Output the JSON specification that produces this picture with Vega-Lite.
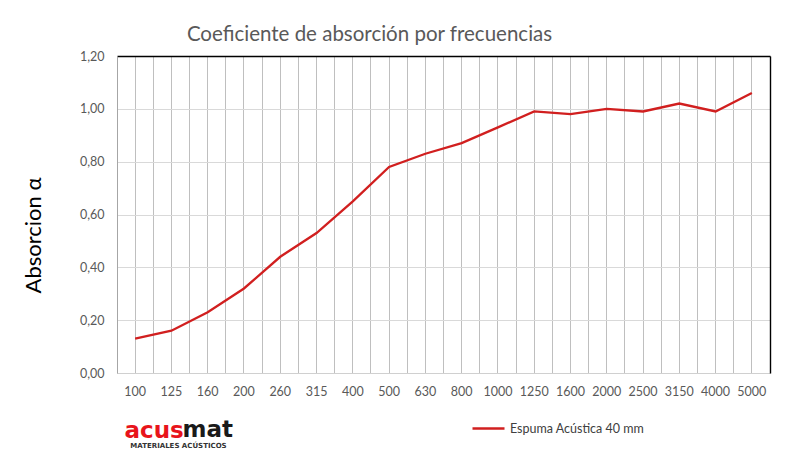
{
  "$schema": "https://vega.github.io/schema/vega-lite/v6.json",
  "width": 653,
  "height": 317,
  "autosize": {"type": "none"},
  "padding": {"left": 117, "top": 56, "right": 42, "bottom": 100},
  "title": {
    "text": "Coeficiente de absorción por frecuencias",
    "anchor": "middle",
    "frame": "group",
    "dx": -74,
    "offset": 5,
    "font": "Lato",
    "fontSize": 20.5,
    "fontWeight": "normal",
    "color": "#595959"
  },
  "data": {
    "values": [
      {"frecuencia": "100", "absorcion": 0.13, "serie": "Espuma Acústica 40 mm"},
      {"frecuencia": "125", "absorcion": 0.16, "serie": "Espuma Acústica 40 mm"},
      {"frecuencia": "160", "absorcion": 0.23, "serie": "Espuma Acústica 40 mm"},
      {"frecuencia": "200", "absorcion": 0.32, "serie": "Espuma Acústica 40 mm"},
      {"frecuencia": "260", "absorcion": 0.44, "serie": "Espuma Acústica 40 mm"},
      {"frecuencia": "315", "absorcion": 0.53, "serie": "Espuma Acústica 40 mm"},
      {"frecuencia": "400", "absorcion": 0.65, "serie": "Espuma Acústica 40 mm"},
      {"frecuencia": "500", "absorcion": 0.78, "serie": "Espuma Acústica 40 mm"},
      {"frecuencia": "630", "absorcion": 0.83, "serie": "Espuma Acústica 40 mm"},
      {"frecuencia": "800", "absorcion": 0.87, "serie": "Espuma Acústica 40 mm"},
      {"frecuencia": "1000", "absorcion": 0.93, "serie": "Espuma Acústica 40 mm"},
      {"frecuencia": "1250", "absorcion": 0.99, "serie": "Espuma Acústica 40 mm"},
      {"frecuencia": "1600", "absorcion": 0.98, "serie": "Espuma Acústica 40 mm"},
      {"frecuencia": "2000", "absorcion": 1.0, "serie": "Espuma Acústica 40 mm"},
      {"frecuencia": "2500", "absorcion": 0.99, "serie": "Espuma Acústica 40 mm"},
      {"frecuencia": "3150", "absorcion": 1.02, "serie": "Espuma Acústica 40 mm"},
      {"frecuencia": "4000", "absorcion": 0.99, "serie": "Espuma Acústica 40 mm"},
      {"frecuencia": "5000", "absorcion": 1.06, "serie": "Espuma Acústica 40 mm"}
    ]
  },
  "layer": [
    {
      "mark": {"type": "line", "opacity": 0},
      "encoding": {
        "x": {
          "field": "frecuencia",
          "type": "ordinal",
          "sort": null,
          "bandPosition": 0.5,
          "scale": {"type": "band", "paddingInner": 0, "paddingOuter": 0},
          "axis": {
            "orient": "top",
            "bandPosition": 0,
            "labels": false,
            "ticks": false,
            "grid": true,
            "gridColor": "#bfbfbf",
            "gridWidth": 1,
            "domainColor": "#000000",
            "domainWidth": 1.4,
            "title": "mat",
            "titleX": 65,
            "titleY": 380,
            "titleAlign": "left",
            "titleBaseline": "alphabetic",
            "titleFont": "DejaVu Sans",
            "titleFontSize": 23,
            "titleFontWeight": "bold",
            "titleColor": "#1a1a1a"
          }
        },
        "y": {
          "field": "absorcion",
          "type": "quantitative",
          "scale": {"domain": [0, 1.2]},
          "axis": {
            "orient": "right",
            "labels": false,
            "ticks": false,
            "grid": false,
            "domainColor": "#000000",
            "domainWidth": 1.4,
            "title": "MATERIALES ACÚSTICOS",
            "titleAngle": 0,
            "titleX": -592,
            "titleY": 389,
            "titleAlign": "center",
            "titleBaseline": "middle",
            "titleFont": "DejaVu Sans",
            "titleFontSize": 7,
            "titleFontWeight": "bold",
            "titleColor": "#333333"
          }
        }
      }
    },
    {
      "mark": {"type": "line", "strokeWidth": 2.3},
      "encoding": {
        "x": {
          "field": "frecuencia",
          "type": "ordinal",
          "sort": null,
          "bandPosition": 0.5,
          "axis": {
            "orient": "bottom",
            "bandPosition": 0.5,
            "labelAngle": 0,
            "labelFont": "Lato",
            "labelFontSize": 12.5,
            "labelColor": "#595959",
            "labelPadding": 12,
            "ticks": false,
            "grid": true,
            "gridColor": "#bfbfbf",
            "domainColor": "#d0d0d0",
            "title": "acus",
            "titleX": 7,
            "titleY": 64,
            "titleAlign": "left",
            "titleBaseline": "alphabetic",
            "titleFont": "DejaVu Sans",
            "titleFontSize": 23,
            "titleFontWeight": "bold",
            "titleColor": "#e8141b"
          }
        },
        "y": {
          "field": "absorcion",
          "type": "quantitative",
          "axis": {
            "orient": "left",
            "values": [0, 0.2, 0.4, 0.6, 0.8, 1.0, 1.2],
            "labelExpr": "replace(format(datum.value, '.2f'), '.', ',')",
            "labelFont": "Lato",
            "labelFontSize": 12.5,
            "labelColor": "#595959",
            "labelPadding": 13,
            "ticks": false,
            "grid": true,
            "gridColor": "#d9d9d9",
            "domainColor": "#a6a6a6",
            "title": "Absorcion α",
            "titleX": -84,
            "titleY": 179,
            "titleAlign": "center",
            "titleBaseline": "middle",
            "titleFont": "Lato",
            "titleFontSize": 22,
            "titleFontWeight": "normal",
            "titleColor": "#000000"
          }
        },
        "color": {
          "field": "serie",
          "type": "nominal",
          "scale": {"range": ["#d11f1f"]},
          "legend": {
            "orient": "none",
            "legendX": 354,
            "legendY": 355,
            "title": null,
            "symbolType": "stroke",
            "symbolSize": 1024,
            "symbolStrokeWidth": 2.3,
            "labelFont": "Lato",
            "labelFontSize": 12.5,
            "labelColor": "#404040",
            "labelOffset": 4
          }
        }
      }
    }
  ],
  "resolve": {"axis": {"x": "independent", "y": "independent"}},
  "config": {"view": {"stroke": null}}
}
